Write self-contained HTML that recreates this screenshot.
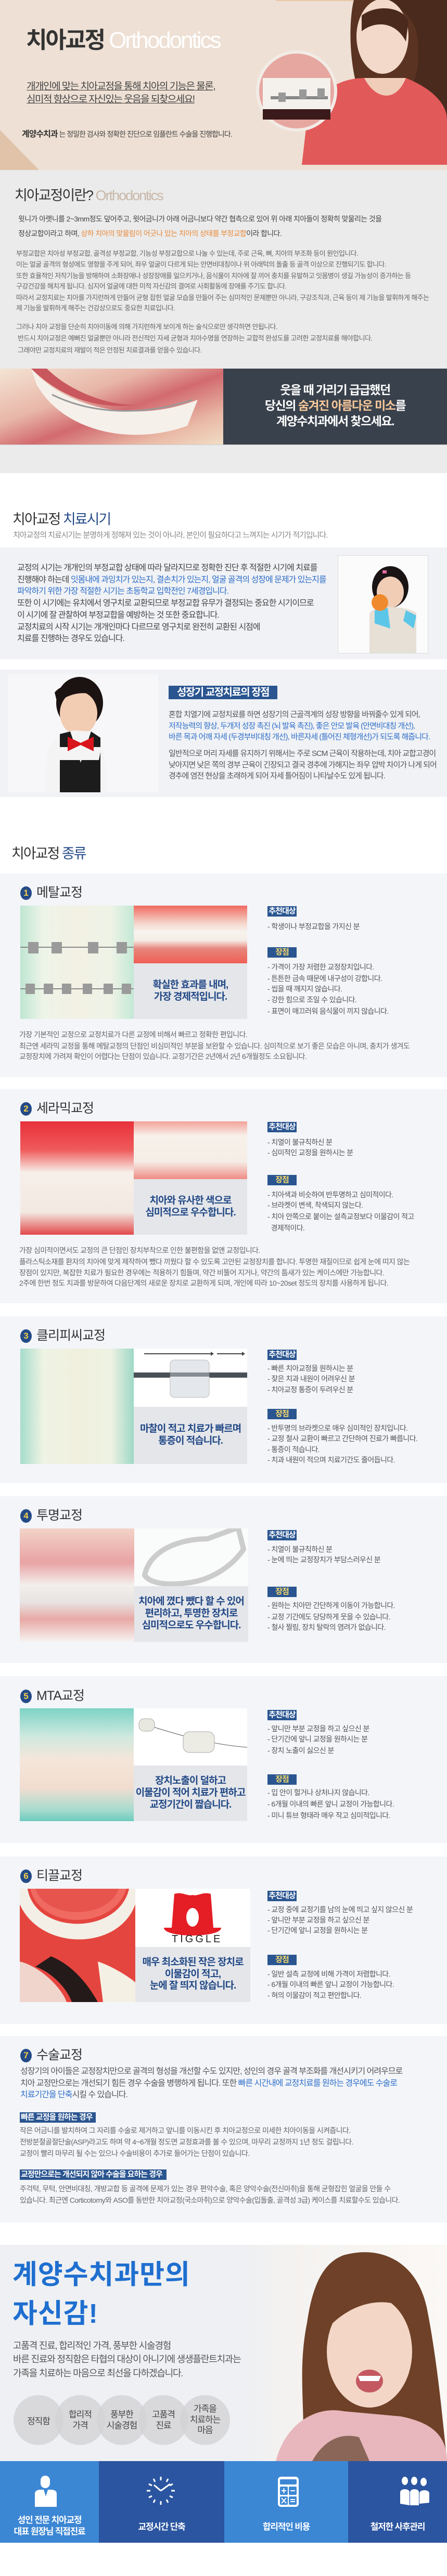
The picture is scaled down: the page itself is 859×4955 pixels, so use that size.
<!DOCTYPE html>
<html><head><meta charset="utf-8">
<style>
*{margin:0;padding:0;box-sizing:border-box}
body{width:859px;height:4955px;position:relative;background:#fff;font-family:"Liberation Sans","Noto Sans CJK KR",sans-serif;overflow:hidden;color:#555}
.a{position:absolute}
.t{position:absolute;white-space:nowrap;line-height:1.2;letter-spacing:-0.6px}
.card{position:absolute;left:0;width:859px;background:#f3f5f9}
.num{position:absolute;width:22px;height:26px;border-radius:50%;background:#244a87;color:#f5cf4a;font-size:17px;font-weight:bold;text-align:center;line-height:26px;left:39px}
.h{position:absolute;left:70px;font-size:25px;color:#333;letter-spacing:-1px;white-space:nowrap;line-height:1}
.lb{position:absolute;left:514px;width:56px;height:20px;background:#2a5590;color:#fff;font-size:15px;font-weight:bold;text-align:center;line-height:20px;letter-spacing:-1px}
.lb.y{color:#f5d86b}
.it{position:absolute;left:514px;font-size:14px;color:#555;white-space:nowrap;letter-spacing:-0.6px;line-height:18px}
.grey{position:absolute;background:#e4e6ea;color:#244a87;font-size:19px;font-weight:bold;text-align:center;letter-spacing:-1px;display:flex;align-items:center;justify-content:center;line-height:1.2}
.ds{position:absolute;left:37px;font-size:14px;color:#666;white-space:nowrap;letter-spacing:-0.6px;line-height:18px}
.blue{color:#2f6fc9}
</style></head><body>

<!-- HERO -->
<div class="a" style="left:0;top:0;width:859px;height:327px;background:#eee0d4"></div>
<div class="a" style="left:0;top:250px;width:0;height:0;border-left:75px solid #e0c3a8;border-top:77px solid transparent"></div>
<div class="a" style="left:530px;top:0;width:329px;height:2px;background:#e8c8a8"></div>
<svg class="a" style="left:480px;top:0" width="379" height="327" viewBox="0 0 379 327">
  <path d="M210 0 L379 0 L379 300 L330 240 L300 120 Z" fill="#4a2a1c"/>
  <path d="M200 0 C230 -10 300 0 320 60 C330 120 320 160 300 180 L210 180 C190 120 190 40 200 0Z" fill="#5a3322"/>
  <ellipse cx="255" cy="70" rx="50" ry="72" fill="#f3d9c9"/>
  <path d="M215 30 C240 10 290 10 305 40 L300 80 C280 40 240 40 215 60Z" fill="#4a2a1c"/>
  <path d="M100 317 L110 230 C130 170 180 150 220 150 L300 150 C350 170 379 200 379 230 L379 317Z" fill="#e2595a"/>
  <path d="M220 150 C240 190 280 200 300 150Z" fill="#f0cdb9"/>
  <circle cx="90" cy="175" r="78" fill="#f2ebe6"/>
  <circle cx="90" cy="175" r="72" fill="#e6a7a0"/>
  <rect x="25" y="150" width="130" height="60" fill="#f4f1ec"/>
  <rect x="40" y="185" width="110" height="6" fill="#888"/>
  <rect x="55" y="178" width="14" height="18" fill="#999"/>
  <rect x="95" y="172" width="14" height="18" fill="#999"/>
  <rect x="130" y="170" width="14" height="18" fill="#999"/>
  <rect x="25" y="210" width="130" height="20" fill="#3a1a1a"/>
</svg>
<div class="t" style="left:50px;top:52px;font-size:44px;color:#333;letter-spacing:-3px;font-weight:bold">치아교정 <span style="color:#fff;font-weight:normal">Orthodontics</span></div>
<div class="t" style="left:51px;top:156px;font-size:19px;color:#444;text-decoration:underline;letter-spacing:-1.5px">개개인에 맞는 치아교정을 통해 치아의 기능은 물론,</div>
<div class="t" style="left:51px;top:181px;font-size:19px;color:#444;text-decoration:underline;letter-spacing:-1.5px">심미적 향상으로 자신있는 웃음을 되찾으세요!</div>
<div class="t" style="left:42px;top:249px;font-size:14px;color:#444;letter-spacing:-1px"><b style="font-size:16px;color:#333">계양수치과</b> 는 정밀한 검사와 정확한 진단으로 임플란트 수술을 진행합니다.</div>

<!-- SECTION 2 -->
<div class="a" style="left:0;top:327px;width:859px;height:583px;background:#ebebeb"></div>
<div class="t" style="left:28px;top:360px;font-size:27px;color:#333;letter-spacing:-2px">치아교정이란? <span style="color:#c8b8a8">Orthodontics</span></div>
<div class="t" style="left:35px;top:413px;font-size:14px;color:#444">윗니가 아랫니를 2~3mm정도 덮어주고, 윗어금니가 아래 어금니보다 약간 협측으로 있어 위 아래 치아들이 정확히 맞물리는 것을</div>
<div class="t" style="left:35px;top:441px;font-size:14px;color:#444">정상교합이라고 하며, <span style="color:#e8893a">상하 치아의 맞물림이 어긋나 있는 치아의 상태를 부정교합</span>이라 합니다.</div>
<div class="t" style="left:31px;top:480px;font-size:13px;color:#666">부정교합은 치아성 부정교합, 골격성 부정교합, 기능성 부정교합으로 나눌 수 있는데, 주로 근육, 뼈, 치아의 부조화 등이 원인입니다.</div>
<div class="t" style="left:31px;top:501px;font-size:13px;color:#666">이는 얼굴 골격의 형성에도 영향을 주게 되어, 좌우 얼굴이 다르게 되는 안면비대칭이나 위 아래턱의 돌출 등 골격 이상으로 진행되기도 합니다.</div>
<div class="t" style="left:31px;top:523px;font-size:13px;color:#666">또한 효율적인 저작기능을 방해하여 소화장애나 성장장애를 일으키거나, 음식물이 치아에 잘 끼어 충치를 유발하고 잇몸병이 생길 가능성이 증가하는 등</div>
<div class="t" style="left:31px;top:543px;font-size:13px;color:#666">구강건강을 해치게 됩니다. 심지어 얼굴에 대한 미적 자신감의 결여로 사회활동에 장애를 주기도 합니다.</div>
<div class="t" style="left:31px;top:565px;font-size:13px;color:#666">따라서 교정치료는 치아를 가지런하게 만들어 균형 잡힌 얼굴 모습을 만들어 주는 심미적인 문제뿐만 아니라, 구강조직과, 근육 등이 제 기능을 발휘하게 해주는</div>
<div class="t" style="left:31px;top:585px;font-size:13px;color:#666">제 기능을 발휘하게 해주는 건강상으로도 중요한 치료입니다.</div>
<div class="t" style="left:31px;top:621px;font-size:13px;color:#666">그러나 치아 교정을 단순히 치아이동에 의해 가지런하게 보이게 하는 술식으로만 생각하면 안됩니다.</div>
<div class="t" style="left:34px;top:643px;font-size:13px;color:#666">반드시 치아교정은 예뻐진 얼굴뿐만 아니라 전신적인 자세 균형과 치아수명을 연장하는 교합적 완성도를 고려한 교정치료를 해야합니다.</div>
<div class="t" style="left:34px;top:666px;font-size:13px;color:#666">그래야만 교정치료의 재발이 적은 안정된 치료결과를 얻을수 있습니다.</div>

<!-- banner -->
<div class="a" style="left:0;top:709px;width:429px;height:146px;background:linear-gradient(160deg,#f4e4d4 0%,#e8b6a8 35%,#d26a70 55%,#e9b8a5 80%,#f1ddc6 100%)"></div>
<svg class="a" style="left:0;top:709px" width="429" height="146"><path d="M60 0 C120 70 250 110 380 60 L360 110 C250 150 120 120 70 30Z" fill="#f5f0ea"/><path d="M100 50 C180 90 280 90 370 60" stroke="#999" stroke-width="3" fill="none"/><path d="M60 0 L90 0 C130 40 200 70 260 70 C180 80 110 50 60 0Z" fill="#c9575e"/></svg>
<div class="a" style="left:429px;top:709px;width:430px;height:146px;background:#39414c"></div>
<div class="a" style="left:429px;top:735px;width:430px;text-align:center;color:#fff;font-size:23px;line-height:30px;letter-spacing:-1.5px;font-weight:bold">웃을 때 가리기 급급했던<br>당신의 <span style="color:#f6c79a">숨겨진 아름다운 미소</span>를<br>계양수치과에서 찾으세요.</div>
<div class="a" style="left:0;top:855px;width:859px;height:1px;background:#ccc"></div>

<!-- 치료시기 -->
<div class="t" style="left:24px;top:983px;font-size:27px;color:#333;letter-spacing:-2px">치아교정 <span style="color:#244a87">치료시기</span></div>
<div class="t" style="left:25px;top:1021px;font-size:15px;color:#888;letter-spacing:-1px">치아교정의 치료시기는 분명하게 정해져 있는 것이 아니라, 본인이 필요하다고 느껴지는 시기가 적기입니다.</div>
<div class="a" style="left:0;top:1053px;width:859px;height:215px;background:#f0f2f5"></div>
<div class="a" style="left:649px;top:1068px;width:174px;height:189px;background:#fbfbfc;border:1px solid #ddd"></div>
<svg class="a" style="left:650px;top:1069px" width="172" height="187"><ellipse cx="100" cy="60" rx="35" ry="40" fill="#1a1414"/><ellipse cx="100" cy="70" rx="26" ry="30" fill="#f1cdb6"/><path d="M60 110 C70 95 130 95 150 110 L150 187 L60 187Z" fill="#e6e0d6"/><path d="M70 105 L95 100 L100 140 L70 130Z" fill="#5cc6e8"/><path d="M130 105 L150 115 L145 140 L125 125Z" fill="#5cc6e8"/><circle cx="80" cy="90" r="16" fill="#f08a2e"/><rect x="85" y="28" width="8" height="6" fill="#e66aa0"/></svg>
<div class="t" style="left:33px;top:1083px;font-size:16px;color:#444;letter-spacing:-1px">교정의 시기는 개개인의 부정교합 상태에 따라 달라지므로 정확한 진단 후 적절한 시기에 치료를</div>
<div class="t" style="left:33px;top:1106px;font-size:16px;color:#444;letter-spacing:-1px">진행해야 하는데 <span class="blue">잇몸내에 과잉치가 있는지, 결손치가 있는지, 얼굴 골격의 성장에 문제가 있는지를</span></div>
<div class="t blue" style="left:33px;top:1128px;font-size:16px;letter-spacing:-1px">파악하기 위한 가장 적절한 시기는 초등학교 입학전인 7세경입니다.</div>
<div class="t" style="left:33px;top:1151px;font-size:16px;color:#444;letter-spacing:-1px">또한 이 시기에는 유치에서 영구치로 교환되므로 부정교합 유무가 결정되는 중요한 시기이므로</div>
<div class="t" style="left:33px;top:1174px;font-size:16px;color:#444;letter-spacing:-1px">이 시기에 잘 관찰하여 부정교합을 예방하는 것 또한 중요합니다.</div>
<div class="t" style="left:33px;top:1197px;font-size:16px;color:#444;letter-spacing:-1px">교정치료의 시작 시기는 개개인마다 다르므로 영구치로 완전히 교환된 시점에</div>
<div class="t" style="left:33px;top:1219px;font-size:16px;color:#444;letter-spacing:-1px">치료를 진행하는 경우도 있습니다.</div>

<div class="a" style="left:0;top:1288px;width:859px;height:245px;background:#f0f2f5"></div>
<div class="a" style="left:15px;top:1297px;width:289px;height:227px;background:#f7f7f9"></div>
<svg class="a" style="left:15px;top:1297px" width="289" height="227"><ellipse cx="138" cy="55" rx="45" ry="50" fill="#1b1212"/><ellipse cx="136" cy="75" rx="36" ry="42" fill="#f2cdb3"/><path d="M90 35 C110 10 170 10 180 45 C150 30 120 35 95 55Z" fill="#1b1212"/><path d="M70 227 L75 160 C80 130 100 110 130 108 L160 110 C180 120 190 150 190 227Z" fill="#f4f4f4"/><path d="M100 115 L120 110 L140 170 L160 110 L178 122 L178 227 L100 227Z" fill="#1c1c1c"/><path d="M100 140 L180 140 L175 165 L100 165Z" fill="#f4f4f4"/><path d="M115 120 L140 132 L165 120 L165 148 L140 136 L115 148Z" fill="#d8141c"/></svg>
<div class="a" style="left:324px;top:1319px;width:209px;height:26px;background:#2a5590;color:#fff;font-size:20px;font-weight:bold;line-height:26px;text-align:center;letter-spacing:-1.5px">성장기 교정치료의 장점</div>
<div class="t" style="left:324px;top:1366px;font-size:15px;color:#555;letter-spacing:-1px">혼합 치열기에 교정치료를 하면 성장기의 근골격계의 성장 방향을 바꿔줄수 있게 되어,</div>
<div class="t blue" style="left:324px;top:1388px;font-size:15px;letter-spacing:-1px">저작능력의 향상, 두개저 성장 촉진 (뇌 발육 촉진), 좋은 안모 발육 (안면비대칭 개선),</div>
<div class="t blue" style="left:324px;top:1409px;font-size:15px;letter-spacing:-1px">바른 목과 어깨 자세 (두경부비대칭 개선), 바른자세 (틀어진 체형개선)가 되도록 해줍니다.</div>
<div class="t" style="left:324px;top:1441px;font-size:15px;color:#555;letter-spacing:-1px">일반적으로 머리 자세를 유지하기 위해서는 주로 SCM 근육이 작용하는데, 치아 교합고경이</div>
<div class="t" style="left:324px;top:1463px;font-size:15px;color:#555;letter-spacing:-1px">낮아지면 낮은 쪽의 경부 근육이 긴장되고 결국 경추에 가해지는 좌우 압박 차이가 나게 되어</div>
<div class="t" style="left:324px;top:1484px;font-size:15px;color:#555;letter-spacing:-1px">경추에 염전 현상을 초래하게 되어 자세 틀어짐이 나타날수도 있게 됩니다.</div>

<div class="t" style="left:22px;top:1626px;font-size:27px;color:#333;letter-spacing:-2px">치아교정 <span style="color:#244a87">종류</span></div>

<!-- CARD 1 -->
<div class="card" style="top:1680px;height:392px"></div>
<div class="num" style="top:1705px">1</div>
<div class="h" style="top:1705px">메탈교정</div>
<div class="a" style="left:39px;top:1742px;width:218px;height:218px;background:linear-gradient(90deg,#bfe6d2,#eef4e8 20%,#f2f1e4 50%,#eef3e6 80%,#c4e8d6)"></div>
<svg class="a" style="left:39px;top:1742px" width="218" height="218"><line x1="0" y1="80" x2="218" y2="80" stroke="#888" stroke-width="2"/><line x1="0" y1="160" x2="218" y2="160" stroke="#888" stroke-width="2"/><g fill="#9a9a9a"><rect x="15" y="70" width="20" height="22"/><rect x="60" y="70" width="20" height="22"/><rect x="130" y="70" width="20" height="22"/><rect x="185" y="70" width="20" height="22"/><rect x="10" y="150" width="18" height="20"/><rect x="45" y="150" width="18" height="20"/><rect x="80" y="150" width="18" height="20"/><rect x="120" y="150" width="18" height="20"/><rect x="160" y="150" width="18" height="20"/><rect x="195" y="150" width="18" height="20"/></g></svg>
<div class="a" style="left:257px;top:1742px;width:218px;height:111px;background:linear-gradient(180deg,#f06a60 0%,#f5d4ca 30%,#f7f3ee 45%,#f5ede6 60%,#e6857c 75%,#f05f55 100%)"></div>
<div class="grey" style="left:257px;top:1853px;width:218px;height:107px">확실한 효과를 내며,<br>가장 경제적입니다.</div>
<div class="lb" style="top:1743px">추천대상</div>
<div class="it" style="top:1773px">- 학생이나 부정교합을 가지신 분</div>
<div class="lb y" style="top:1822px">장점</div>
<div class="it" style="top:1851px">- 가격이 가장 저렴한 교정장치입니다.</div>
<div class="it" style="top:1873px">- 튼튼한 금속 때문에 내구성이 강합니다.</div>
<div class="it" style="top:1893px">- 씹을 때 깨지지 않습니다.</div>
<div class="it" style="top:1914px">- 강한 힘으로 조일 수 있습니다.</div>
<div class="it" style="top:1936px">- 표면이 매끄러워 음식물이 끼지 않습니다.</div>
<div class="ds" style="top:1981px">가장 기본적인 교정으로 교정치료가 다른 교정에 비해서 빠르고 정확한 편입니다.</div>
<div class="ds" style="top:2003px">최근엔 세라믹 교정을 통해 메탈교정의 단점인 비심미적인 부분을 보완할 수 있습니다. 심미적으로 보기 좋은 모습은 아니며, 충치가 생겨도</div>
<div class="ds" style="top:2023px">교정장치에 가려져 확인이 어렵다는 단점이 있습니다. 교정기간은 2년에서 2년 6개월정도 소요됩니다.</div>

<!-- CARD 2 -->
<div class="card" style="top:2095px;height:412px"></div>
<div class="num" style="top:2120px">2</div>
<div class="h" style="top:2120px">세라믹교정</div>
<div class="a" style="left:39px;top:2157px;width:218px;height:218px;background:linear-gradient(180deg,#e8303a 0%,#ef5a5a 25%,#f7efe9 45%,#f4ece4 65%,#f2e9e2 80%,#e24a4a 100%)"></div>
<div class="a" style="left:257px;top:2157px;width:218px;height:111px;background:linear-gradient(180deg,#f3a29a 0%,#f7f1ea 25%,#f5ede6 70%,#ef8c84 100%)"></div>
<div class="grey" style="left:257px;top:2268px;width:218px;height:107px">치아와 유사한 색으로<br>심미적으로 우수합니다.</div>
<div class="lb" style="top:2158px">추천대상</div>
<div class="it" style="top:2188px">- 치열이 불규칙하신 분</div>
<div class="it" style="top:2208px">- 심미적인 교정을 원하시는 분</div>
<div class="lb y" style="top:2260px">장점</div>
<div class="it" style="top:2289px">- 치아색과 비슷하여 반투명하고 심미적이다.</div>
<div class="it" style="top:2309px">- 브라켓이 변색, 착색되지 않는다.</div>
<div class="it" style="top:2331px">- 치아 안쪽으로 붙이는 설측교정보다 이물감이 적고</div>
<div class="it" style="top:2353px">&nbsp;&nbsp;경제적이다.</div>
<div class="ds" style="top:2396px">가장 심미적이면서도 교정의 큰 단점인 장치부착으로 인한 불편함을 없앤 교정입니다.</div>
<div class="ds" style="top:2418px">플라스틱소재를 환자의 치아에 맞게 제작하여 뺐다 끼웠다 할 수 있도록 고안된 교정장치를 합니다. 투명한 재질이므로 쉽게 눈에 띠지 않는</div>
<div class="ds" style="top:2439px">장점이 있지만, 복잡한 치료가 필요한 경우에는 적용하기 힘들며, 약간 비뚤어 지거나, 약간의 틈새가 있는 케이스에만 가능합니다.</div>
<div class="ds" style="top:2459px">2주에 한번 정도 치과를 방문하여 다음단계의 새로운 장치로 교환하게 되며, 개인에 따라 10~20set 정도의 장치를 사용하게 됩니다.</div>

<!-- CARD 3 -->
<div class="card" style="top:2532px;height:321px"></div>
<div class="num" style="top:2557px">3</div>
<div class="h" style="top:2557px">클리피씨교정</div>
<div class="a" style="left:39px;top:2594px;width:218px;height:222px;background:linear-gradient(90deg,#a6dccb,#eef3e4 20%,#f1f0de 50%,#eef2e2 80%,#9fd8c6)"></div>
<div class="a" style="left:257px;top:2594px;width:218px;height:112px;background:#fff"></div>
<svg class="a" style="left:257px;top:2594px" width="218" height="112"><line x1="20" y1="10" x2="148" y2="10" stroke="#444" stroke-width="2"/><path d="M148 6 L154 10 L148 14Z" fill="#444"/><line x1="160" y1="10" x2="210" y2="10" stroke="#444" stroke-width="2"/><path d="M208 6 L214 10 L208 14Z" fill="#444"/><rect x="0" y="46" width="218" height="10" fill="#4a5058"/><rect x="70" y="22" width="75" height="72" rx="8" fill="#e4e8ec" stroke="#bbb"/><rect x="0" y="46" width="218" height="8" fill="#4a5058" opacity=".6"/></svg>
<div class="grey" style="left:257px;top:2706px;width:218px;height:110px">마찰이 적고 치료가 빠르며<br>통증이 적습니다.</div>
<div class="lb" style="top:2596px">추천대상</div>
<div class="it" style="top:2623px">- 빠른 치아교정을 원하시는 분</div>
<div class="it" style="top:2643px">- 잦은 치과 내원이 어려우신 분</div>
<div class="it" style="top:2664px">- 치아교정 통증이 두려우신 분</div>
<div class="lb y" style="top:2710px">장점</div>
<div class="it" style="top:2738px">- 반투명의 브라켓으로 매우 심미적인 장치입니다.</div>
<div class="it" style="top:2758px">- 교정 철사 교환이 빠르고 간단하여 진료가 빠릅니다.</div>
<div class="it" style="top:2779px">- 통증이 적습니다.</div>
<div class="it" style="top:2799px">- 치과 내원이 적으며 치료기간도 줄어듭니다.</div>

<!-- CARD 4 -->
<div class="card" style="top:2878px;height:321px"></div>
<div class="num" style="top:2903px">4</div>
<div class="h" style="top:2903px">투명교정</div>
<div class="a" style="left:38px;top:2940px;width:220px;height:218px;background:linear-gradient(180deg,#f2d3c8 0%,#e9a3a4 30%,#f3efec 50%,#e7e3e2 65%,#e8a9a5 80%,#f6f3f1 100%)"></div>
<div class="a" style="left:258px;top:2940px;width:219px;height:111px;background:#fafbfb"></div>
<svg class="a" style="left:258px;top:2940px" width="219" height="111"><path d="M20 90 C30 40 90 20 140 20 C170 10 190 0 200 0 L210 40 C190 70 150 100 100 105 C60 110 30 105 20 90Z" fill="none" stroke="#ccc" stroke-width="10"/></svg>
<div class="grey" style="left:258px;top:3051px;width:219px;height:107px">치아에 꼈다 뺐다 할 수 있어<br>편리하고, 투명한 장치로<br>심미적으로도 우수합니다.</div>
<div class="lb" style="top:2943px">추천대상</div>
<div class="it" style="top:2971px">- 치열이 불규칙하신 분</div>
<div class="it" style="top:2991px">- 눈에 띄는 교정장치가 부담스러우신 분</div>
<div class="lb y" style="top:3052px">장점</div>
<div class="it" style="top:3079px">- 원하는 치아만 간단하게 이동이 가능합니다.</div>
<div class="it" style="top:3101px">- 교정 기간에도 당당하게 웃을 수 있습니다.</div>
<div class="it" style="top:3121px">- 철사 찔림, 장치 탈락의 염려가 없습니다.</div>

<!-- CARD 5 -->
<div class="card" style="top:3224px;height:321px"></div>
<div class="num" style="top:3250px">5</div>
<div class="h" style="top:3250px">MTA교정</div>
<div class="a" style="left:38px;top:3286px;width:219px;height:217px;background:linear-gradient(180deg,#7dd3c6 0%,#cfe9df 25%,#f4e6da 45%,#f2ddd0 70%,#a7dccf 90%,#6ccbbd 100%)"></div>
<div class="a" style="left:257px;top:3286px;width:218px;height:110px;background:#fff"></div>
<svg class="a" style="left:257px;top:3286px" width="218" height="110"><path d="M20 30 C80 50 150 70 218 75" stroke="#555" fill="none"/><rect x="10" y="20" width="30" height="24" rx="10" fill="#e8e8e0" stroke="#aaa"/><rect x="95" y="45" width="60" height="40" rx="12" fill="#ecece4" stroke="#aaa"/></svg>
<div class="grey" style="left:257px;top:3396px;width:218px;height:107px">장치노출이 덜하고<br>이물감이 적어 치료가 편하고<br>교정기간이 짧습니다.</div>
<div class="lb" style="top:3289px">추천대상</div>
<div class="it" style="top:3316px">- 앞니만 부분 교정을 하고 싶으신 분</div>
<div class="it" style="top:3336px">- 단기간에 앞니 교정을 원하시는 분</div>
<div class="it" style="top:3358px">- 장치 노출이 싫으신 분</div>
<div class="lb y" style="top:3413px">장점</div>
<div class="it" style="top:3439px">- 입 안이 헐거나 상처나지 않습니다.</div>
<div class="it" style="top:3461px">- 6개월 이내의 빠른 앞니 교정이 가능합니다.</div>
<div class="it" style="top:3483px">- 미니 튜브 형태라 매우 작고 심미적입니다.</div>

<!-- CARD 6 -->
<div class="card" style="top:3571px;height:322px"></div>
<div class="num" style="top:3596px">6</div>
<div class="h" style="top:3596px">티끌교정</div>
<div class="a" style="left:38px;top:3633px;width:222px;height:218px;background:#e5453f"></div>
<svg class="a" style="left:38px;top:3633px" width="222" height="218"><path d="M20 0 C40 80 180 80 205 0Z" fill="#f06a62"/><path d="M15 0 C30 90 190 90 210 0 L222 0 L222 30 C190 120 40 120 0 30 L0 0Z" fill="#f3efe6"/><path d="M30 0 C50 60 170 60 190 0Z" fill="#e7544e"/><path d="M60 130 C110 150 140 200 150 218 L100 218 C90 190 60 160 30 150Z" fill="#241a1a"/><path d="M0 140 C40 150 80 190 90 218 L0 218Z" fill="#f2eee6" opacity=".85"/><path d="M150 140 C180 150 210 170 222 180 L222 218 L160 218Z" fill="#f5f0e4"/></svg>
<div class="a" style="left:260px;top:3633px;width:221px;height:112px;background:#fff"></div>
<svg class="a" style="left:260px;top:3633px" width="221" height="112"><path d="M75 10 C90 5 100 15 110 12 C120 15 130 5 145 10 L150 75 L165 75 C165 95 55 95 55 75 L70 75Z" fill="#e51d25"/><ellipse cx="110" cy="55" rx="12" ry="18" fill="#fff"/></svg>
<div class="t" style="left:330px;top:3718px;font-size:20px;color:#222;letter-spacing:4px">TIGGLE</div>
<div class="grey" style="left:260px;top:3745px;width:221px;height:106px">매우 최소화된 작은 장치로<br>이물감이 적고,<br>눈에 잘 띄지 않습니다.</div>
<div class="lb" style="top:3637px">추천대상</div>
<div class="it" style="top:3664px">- 교정 중에 교정기를 남의 눈에 띄고 싶지 않으신 분</div>
<div class="it" style="top:3684px">- 앞니만 부분 교정을 하고 싶으신 분</div>
<div class="it" style="top:3704px">- 단기간에 앞니 교정을 원하시는 분</div>
<div class="lb y" style="top:3760px">장점</div>
<div class="it" style="top:3788px">- 일반 설측 교정에 비해 가격이 저렴합니다.</div>
<div class="it" style="top:3808px">- 6개월 이내의 빠른 앞니 교정이 가능합니다.</div>
<div class="it" style="top:3829px">- 혀의 이물감이 적고 편안합니다.</div>

<!-- CARD 7 -->
<div class="card" style="top:3916px;height:359px"></div>
<div class="num" style="top:3941px">7</div>
<div class="h" style="top:3941px">수술교정</div>
<div class="t" style="left:39px;top:3975px;font-size:16px;color:#555;letter-spacing:-1px">성장기의 아이들은 교정장치만으로 골격의 형성을 개선할 수도 있지만, 성인의 경우 골격 부조화를 개선시키기 어려우므로</div>
<div class="t" style="left:39px;top:3998px;font-size:16px;color:#555;letter-spacing:-1px">치아 교정만으로는 개선되기 힘든 경우 수술을 병행하게 됩니다. 또한 <span class="blue">빠른 시간내에 교정치료를 원하는 경우에도 수술로</span></div>
<div class="t" style="left:39px;top:4020px;font-size:16px;color:#555;letter-spacing:-1px"><span class="blue">치료기간을 단축</span>시킬 수 있습니다.</div>
<div class="a" style="left:38px;top:4063px;width:146px;height:20px;background:#2a5590;color:#fff;font-size:15px;font-weight:bold;line-height:20px;padding-left:2px;letter-spacing:-1px;white-space:nowrap">빠른 교정을 원하는 경우</div>
<div class="ds" style="left:38px;top:4089px">작은 어금니를 발치하여 그 자리를 수술로 제거하고 앞니를 이동시킨 후 치아교정으로 미세한 치아이동을 시켜줍니다.</div>
<div class="ds" style="left:38px;top:4111px">전방분절골절단술(ASP)라고도 하며 약 4~6개월 정도면 교정효과를 볼 수 있으며, 마무리 교정까지 1년 정도 걸립니다.</div>
<div class="ds" style="left:38px;top:4133px">교정이 빨리 마무리 될 수는 있으나 수술비용이 추가로 들어가는 단점이 있습니다.</div>
<div class="a" style="left:38px;top:4173px;width:282px;height:20px;background:#2a5590;color:#fff;font-size:15px;font-weight:bold;line-height:20px;padding-left:2px;letter-spacing:-1px;white-space:nowrap">교정만으로는 개선되지 않아 수술을 요하는 경우</div>
<div class="ds" style="left:38px;top:4201px">주걱턱, 무턱, 안면비대칭, 개방교합 등 골격에 문제가 있는 경우 편악수술, 혹은 양악수술(전신마취)을 통해 균형잡힌 얼굴을 만들 수</div>
<div class="ds" style="left:38px;top:4223px">있습니다. 최근엔 Corticotomy와 ASO를 동반한 치아교정(국소마취)으로 양악수술(입돌출, 골격성 3급) 케이스를 치료할수도 있습니다.</div>

<!-- PROMO -->
<div class="a" style="left:0;top:4318px;width:859px;height:416px;background:#eef0f3"></div>
<div class="a" style="left:470px;top:4318px;width:389px;height:416px;background:linear-gradient(90deg,#eef0f3 0%,#f4f2f0 20%,#fbf8f5 100%)"></div>
<svg class="a" style="left:470px;top:4318px" width="389" height="416"><path d="M190 20 C260 0 330 30 350 120 C370 220 380 330 389 416 L110 416 C120 330 100 250 120 150 C130 80 150 35 190 20Z" fill="#6e4128"/><ellipse cx="240" cy="205" rx="82" ry="108" fill="#f3d6c6"/><path d="M160 140 C180 60 300 50 330 140 C300 100 220 95 160 160Z" fill="#6e4128"/><ellipse cx="240" cy="262" rx="26" ry="22" fill="#c45860"/><path d="M218 252 L262 252 L258 262 L222 262Z" fill="#fff"/><path d="M60 416 C80 340 140 310 190 320 L300 330 C350 340 389 360 389 416Z" fill="#e7b7bd"/><path d="M130 416 C150 380 180 360 220 370 L240 416Z" fill="#8a6658"/></svg>
<div class="t" style="left:24px;top:4350px;font-size:52px;color:#1f6fd0;letter-spacing:1px;font-weight:bold;line-height:1">계양수치과만의</div>
<div class="t" style="left:24px;top:4425px;font-size:52px;color:#1f6fd0;letter-spacing:1px;font-weight:bold;line-height:1">자신감!</div>
<div class="t" style="left:25px;top:4502px;font-size:18px;color:#555;letter-spacing:-1.2px">고품격 진료, 합리적인 가격, 풍부한 시술경험</div>
<div class="t" style="left:25px;top:4528px;font-size:18px;color:#555;letter-spacing:-1.2px">바른 진료와 정직함은 타협의 대상이 아니기에 생생플란트치과는</div>
<div class="t" style="left:25px;top:4555px;font-size:18px;color:#555;letter-spacing:-1.2px">가족을 치료하는 마음으로 최선을 다하겠습니다.</div>
<div class="a" style="left:26px;top:4607px;width:96px;height:96px;border-radius:50%;background:rgba(210,210,212,.75)"></div>
<div class="a" style="left:106px;top:4607px;width:96px;height:96px;border-radius:50%;background:rgba(210,210,212,.75)"></div>
<div class="a" style="left:186px;top:4607px;width:96px;height:96px;border-radius:50%;background:rgba(210,210,212,.75)"></div>
<div class="a" style="left:266px;top:4607px;width:96px;height:96px;border-radius:50%;background:rgba(210,210,212,.75)"></div>
<div class="a" style="left:346px;top:4607px;width:96px;height:96px;border-radius:50%;background:rgba(210,210,212,.75)"></div>
<div class="a" style="left:26px;top:4607px;width:96px;height:96px;display:flex;align-items:center;justify-content:center;font-size:17px;color:#444;letter-spacing:-1px">정직함</div>
<div class="a" style="left:106px;top:4607px;width:96px;height:96px;display:flex;align-items:center;justify-content:center;font-size:17px;color:#444;text-align:center;line-height:1.25;letter-spacing:-1px">합리적<br>가격</div>
<div class="a" style="left:186px;top:4607px;width:96px;height:96px;display:flex;align-items:center;justify-content:center;font-size:17px;color:#444;text-align:center;line-height:1.25;letter-spacing:-1px">풍부한<br>시술경험</div>
<div class="a" style="left:266px;top:4607px;width:96px;height:96px;display:flex;align-items:center;justify-content:center;font-size:17px;color:#444;text-align:center;line-height:1.25;letter-spacing:-1px">고품격<br>진료</div>
<div class="a" style="left:346px;top:4607px;width:96px;height:96px;display:flex;align-items:center;justify-content:center;font-size:17px;color:#444;text-align:center;line-height:1.2;letter-spacing:-1px">가족을<br>치료하는<br>마음</div>

<!-- BOTTOM BAR -->
<div class="a" style="left:0;top:4734px;width:190px;height:157px;background:#3c87d4"></div>
<div class="a" style="left:190px;top:4734px;width:241px;height:157px;background:#2b55a0"></div>
<div class="a" style="left:431px;top:4734px;width:238px;height:157px;background:#3c87d4"></div>
<div class="a" style="left:669px;top:4734px;width:190px;height:157px;background:#2b55a0"></div>
<svg class="a" style="left:66px;top:4762px" width="44" height="60"><rect x="12" y="0" width="18" height="24" rx="9" fill="#fff"/><path d="M1 35 C1 29 6 27 12 27 L32 27 C38 27 43 29 43 35 L43 60 L1 60Z" fill="#fff"/><path d="M18 27 L22 40 L26 27Z" fill="#3c87d4"/></svg>
<svg class="a" style="left:280px;top:4762px" width="58" height="58"><g stroke="#fff" stroke-width="3"><line x1="29" y1="2" x2="29" y2="9"/><line x1="29" y1="49" x2="29" y2="56"/><line x1="2" y1="29" x2="9" y2="29"/><line x1="49" y1="29" x2="56" y2="29"/><line x1="15" y1="6" x2="18" y2="12"/><line x1="43" y1="6" x2="40" y2="12"/><line x1="15" y1="52" x2="18" y2="46"/><line x1="43" y1="52" x2="40" y2="46"/><line x1="6" y1="16" x2="12" y2="19"/><line x1="52" y1="16" x2="46" y2="19"/><line x1="6" y1="42" x2="12" y2="39"/><line x1="52" y1="42" x2="46" y2="39"/><line x1="29" y1="29" x2="16" y2="18"/><line x1="29" y1="29" x2="47" y2="16"/></g></svg>
<svg class="a" style="left:533px;top:4763px" width="42" height="60"><rect x="1" y="1" width="40" height="58" rx="6" fill="#fff"/><rect x="5" y="6" width="32" height="10" rx="2" fill="#3c87d4"/><rect x="5" y="20" width="15" height="16" rx="2" fill="#3c87d4"/><rect x="22" y="20" width="15" height="16" rx="2" fill="#3c87d4"/><rect x="5" y="39" width="15" height="16" rx="2" fill="#3c87d4"/><rect x="22" y="39" width="15" height="16" rx="2" fill="#3c87d4"/><g stroke="#fff" stroke-width="2"><line x1="12.5" y1="23" x2="12.5" y2="33"/><line x1="8" y1="28" x2="17" y2="28"/><line x1="25" y1="28" x2="34" y2="28"/><line x1="8" y1="42" x2="17" y2="52"/><line x1="17" y1="42" x2="8" y2="52"/><line x1="25" y1="45" x2="34" y2="45"/><line x1="25" y1="49" x2="34" y2="49"/></g></svg>
<svg class="a" style="left:769px;top:4764px" width="58" height="55"><g fill="#fff"><ellipse cx="9" cy="8" rx="6" ry="8"/><ellipse cx="27" cy="8" rx="6" ry="8"/><ellipse cx="45" cy="10" rx="6" ry="8"/><path d="M0 30 C0 22 18 22 18 30 L18 55 L0 52Z"/><path d="M19 30 C19 22 36 22 36 30 L36 55 L19 55Z"/><path d="M37 32 C37 24 56 24 56 32 L56 50 L37 52Z"/></g></svg>
<div class="a" style="left:0;top:4837px;width:190px;text-align:center;color:#fff;font-size:17px;font-weight:bold;line-height:22px;letter-spacing:-1.2px">성인 전문 치아교정<br>대표 원장님 직접진료</div>
<div class="a" style="left:190px;top:4846px;width:241px;text-align:center;color:#fff;font-size:17px;font-weight:bold;letter-spacing:-1.2px">교정시간 단축</div>
<div class="a" style="left:431px;top:4846px;width:238px;text-align:center;color:#fff;font-size:17px;font-weight:bold;letter-spacing:-1.2px">합리적인 비용</div>
<div class="a" style="left:669px;top:4846px;width:190px;text-align:center;color:#fff;font-size:17px;font-weight:bold;letter-spacing:-1.2px">철저한 사후관리</div>
</body></html>
